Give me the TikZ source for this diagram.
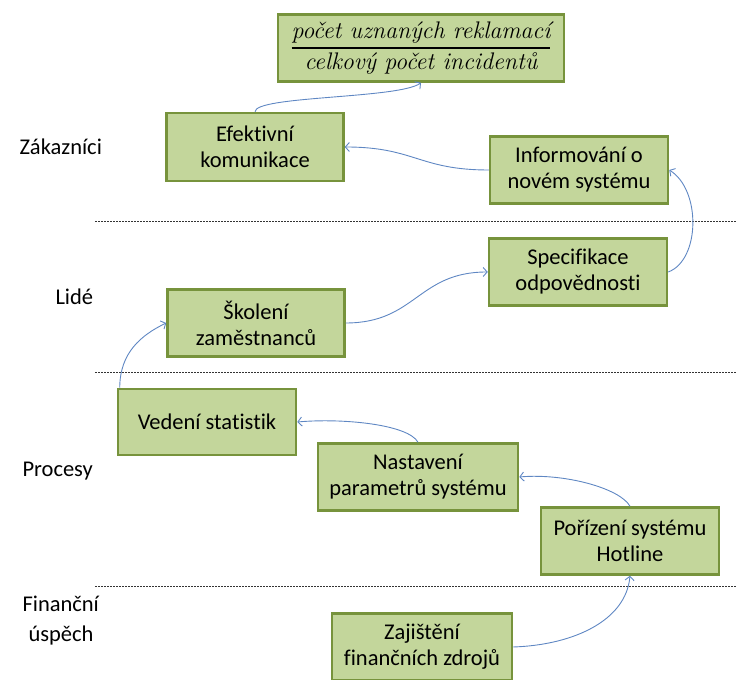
\documentclass[tikz,border=0pt]{standalone}
\usepackage{fontspec}
\usetikzlibrary{arrows.meta}
\newfontfamily\calibri[Ligatures=NoCommon]{Carlito}
\definecolor{boxfill}{RGB}{195,214,155}
\definecolor{boxline}{RGB}{119,147,60}
\definecolor{linkblue}{RGB}{95,135,195}
\tikzset{
  goal/.style={draw=boxline, fill=boxfill, line width=2.5pt, inner sep=0pt,
    align=center, font=\calibri\fontsize{22.5}{26}\selectfont, text=black},
  ratio/.style={goal, font=\fontsize{24}{28}\selectfont},
  link/.style={draw=linkblue, line width=0.9pt, -{Straight Barb[length=4pt,width=9pt]}},
  lane/.style={draw=black!80, line width=0.6pt, dash pattern=on 2pt off 1pt},
  perspective/.style={anchor=west, align=left, font=\calibri\fontsize{22.5}{30}\selectfont}
}
\begin{document}
\begin{tikzpicture}[x=1pt,y=1pt]
\useasboundingbox (0,0) rectangle (737,680);

% perspective boundaries
\draw[lane] (95,459) -- (737,459);
\draw[lane] (95,308) -- (737,308);
\draw[lane] (95,94) -- (737,94);

% perspective names
\node[perspective] (pz) at (16,533) {Zákazníci};
\node[perspective] (pl) at (52,383) {Lidé};
\node[perspective] (pp) at (19,209) {Procesy};
\node[perspective] (pf) at (19,59) {Finanční\\\hspace*{6pt}úspěch};

% objectives
\node[ratio, minimum width=286pt, minimum height=67pt] (formula) at (421,632)
  {\itshape\renewcommand{\arraystretch}{1.05}\setlength{\arrayrulewidth}{1.2pt}%
   \begin{tabular}{@{}c@{}}počet uznaných reklamací\\\hline celkový počet incidentů\end{tabular}};
\node[goal, minimum width=177pt, minimum height=68pt] (eff) at (255,533) {Efektivní\\komunikace};
\node[goal, minimum width=178pt, minimum height=67pt] (inf) at (579,510) {Informování o\\novém systému};
\node[goal, minimum width=178pt, minimum height=67pt] (spec) at (578,408) {Specifikace\\odpovědnosti};
\node[goal, minimum width=177pt, minimum height=67pt] (skol) at (256,357) {Školení\\zaměstnanců};
\node[goal, minimum width=178pt, minimum height=66pt] (ved) at (207,258) {Vedení statistik};
\node[goal, minimum width=200pt, minimum height=67pt] (nast) at (418,203) {Nastavení\\parametrů systému};
\node[goal, minimum width=178pt, minimum height=67pt] (por) at (630,139) {Pořízení systému\\Hotline};
\node[goal, minimum width=180pt, minimum height=67pt] (zaj) at (422,33) {Zajištění\\finančních zdrojů};

% cause and effect links
\draw[link] (eff.north) .. controls +(0,16) and +(-22,-16) .. (formula.south);
\draw[link] (inf.west) .. controls +(-70,0) and +(70,0) .. (eff.east);
\draw[link] (spec.east) .. controls +(32,12) and +(32,-20) .. (inf.east);
\draw[link] (skol.east) .. controls +(70,0) and +(-70,0) .. (spec.west);
\draw[link] ([xshift=3pt]ved.north west) .. controls +(0,35) and +(-25,-12) .. (skol.west);
\draw[link] (nast.north) .. controls +(-10,18) and +(45,4) .. (ved.east);
\draw[link] (por.north) .. controls +(-10,18) and +(45,4) .. (nast.east);
\draw[link] (zaj.east) .. controls +(60,2) and +(-4,-45) .. (por.south);
\end{tikzpicture}
\end{document}
